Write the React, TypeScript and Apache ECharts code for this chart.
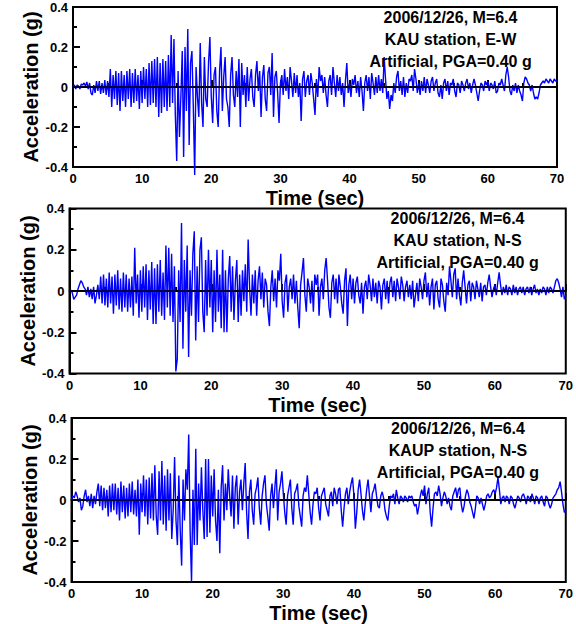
import React, { useEffect, useRef } from "react";
import * as echarts from "echarts";

// sampling step of the records (sec)
const DT = 0.2;

// KAU station, E-W (g), t = 0 ... 70 s
const kauEW = [
  0, 0.01, -0.01, 0.01, 0.005, -0.01, 0.015, 0.01, 0.02, 0.005,
  0.025, -0.01, 0.02, -0.03, -0.04, 0.01, -0.03, 0.03, -0.02, 0.03,
  -0.035, 0.02, -0.03, 0.035, -0.04, 0.03, -0.05, 0.09, -0.1, 0.06,
  -0.06, 0.08, -0.09, 0.07, -0.12, 0.08, -0.07, 0.06, -0.1, 0.08,
  -0.06, 0.09, -0.1, 0.07, -0.08, 0.09, -0.07, 0.06, -0.11, 0.08,
  -0.08, 0.1, -0.06, 0.09, -0.1, 0.12, -0.09, 0.13, -0.08, 0.14,
  -0.1, 0.15, -0.15, 0.12, -0.13, 0.14, -0.1, 0.13, -0.12, 0.16,
  -0.1, 0.26, -0.08, 0.24, -0.14, -0.37, 0.08, -0.25, -0.05, 0.18,
  -0.35, 0.2, -0.12, 0.29, -0.29, 0.12, 0.18, -0.1, -0.44, 0.1,
  -0.05, -0.15, 0.22, -0.08, -0.2, 0.15, -0.06, -0.1, 0.12, 0.25,
  -0.05, -0.18, 0.06, 0.1, -0.12, -0.2, 0.08, 0.2, -0.12, 0.05,
  0.15, -0.06, -0.1, -0.2, 0.06, 0.15, -0.04, -0.1, 0.08, -0.05,
  0.14, -0.2, 0.12, -0.04, 0.06, -0.1, 0.1, -0.07, 0.04, 0.09,
  -0.05, -0.1, 0.06, 0.13, -0.02, 0.08, -0.15, 0.05, 0.11, -0.06,
  -0.12, 0.07, 0.1, -0.04, 0.17, -0.15, 0.05, 0.08, -0.03, -0.18,
  0.02, 0.06, -0.04, 0.09, -0.02, 0.05, -0.06, 0.1, 0.03, -0.05,
  0.07, -0.03, 0.06, -0.05, 0.02, -0.17, 0.04, 0.08, -0.05, 0.03,
  0.06, -0.04, 0.07, 0.02, -0.06, -0.14, 0.04, -0.05, 0.1, 0.03,
  0.06, -0.03, 0.05, -0.04, -0.1, 0.03, 0.06, -0.04, 0.1, 0.02,
  -0.05, 0.06, -0.02, 0.05, -0.04, 0.02, -0.1, 0.03, 0.12, -0.03,
  0.02, -0.05, 0.04, 0.01, 0.06, -0.03, 0.03, -0.05, 0.05, -0.02,
  -0.12, 0.02, 0.06, -0.02, 0.05, -0.06, 0.07, 0.02, -0.04, 0.05,
  -0.03, 0.06, -0.02, 0.04, -0.03, 0.15, 0.04, -0.06, -0.02, -0.11,
  -0.04, -0.07, 0.02, -0.03, 0.05, 0.08, -0.02, 0.03, -0.04, 0.05,
  -0.05, 0.02, -0.03, 0.04, 0.03, 0.06, -0.02, 0.09, 0.04, -0.03,
  0.02, -0.04, 0.03, -0.02, 0.05, -0.03, 0.04, 0.01, -0.03, 0.03,
  0.05, -0.02, 0.02, 0.04, -0.03, -0.05, 0.01, -0.06, 0.02, 0.04,
  -0.02, 0.03, -0.04, 0.02, 0.01, 0.04, -0.02, -0.05, 0.02, 0.01,
  -0.03, 0.03, 0.01, -0.02, 0.02, 0.04, -0.01, 0.02, -0.03, 0.01,
  0.04, 0.01, -0.03, -0.07, -0.02, 0.02, 0.01, -0.02, 0.03, 0.01,
  0.03, -0.02, 0.02, 0.01, -0.01, 0.03, -0.03, -0.02, 0.02, 0.01,
  0.04, 0.01, -0.02, 0.06, 0.1, 0.05, -0.02, -0.04, 0.01, -0.02,
  0.02, -0.03, 0.01, -0.02, -0.04, -0.07, 0.02, 0.05, 0.04, 0.02,
  0.01, -0.02, 0.01, -0.03, -0.06, -0.05, -0.06, -0.03, 0.01, 0.02,
  0.03, 0.02, 0.04, 0.03, 0.02, 0.04, 0.03, 0.02, 0.04, 0.03,
  0.03,
];

// KAU station, N-S (g)
const kauNS = [
  0, 0.005, -0.01, -0.04, -0.03, -0.02, 0.01, 0.03, 0.05, 0.04,
  0.02, 0.01, -0.02, 0.02, -0.03, 0.01, -0.04, 0.02, -0.06, -0.02,
  0.03, -0.04, 0.07, -0.06, 0.08, -0.07, 0.06, -0.08, 0.09, -0.06,
  0.07, -0.11, 0.08, -0.07, 0.1, -0.09, 0.06, -0.1, 0.09, -0.08,
  0.08, -0.1, 0.06, -0.08, 0.07, -0.12, 0.21, -0.06, 0.08, -0.13,
  0.1, -0.1, 0.12, -0.08, 0.13, -0.14, 0.1, -0.09, 0.14, -0.16,
  0.11, -0.16, 0.13, -0.1, 0.15, -0.12, 0.09, -0.14, 0.22, -0.08,
  0.21, -0.12, 0.18, -0.15, 0.12, -0.39, -0.33, 0.1, -0.15, 0.33,
  -0.28, 0.15, -0.1, 0.22, -0.32, 0.1, -0.12, 0.18, 0.29, -0.24,
  0.12, -0.15, 0.2, 0.26, -0.1, -0.2, 0.15, -0.12, 0.2, -0.08,
  0.15, -0.2, 0.1, -0.15, 0.2, -0.1, 0.08, -0.18, 0.2, -0.2,
  0.1, -0.2, 0.06, 0.17, -0.1, 0.12, -0.14, 0.05, 0.15, -0.15,
  0.08, -0.12, 0.1, -0.05, 0.13, -0.1, 0.25, 0.02, -0.12, 0.08,
  -0.06, 0.1, -0.12, 0.05, 0.12, -0.04, 0.09, -0.08, 0.06, 0.03,
  -0.1, -0.17, 0.02, 0.1, -0.05, 0.06, -0.08, 0.1, 0.05, 0.18,
  -0.05, -0.13, 0.04, 0.08, -0.1, 0.02, 0.06, -0.04, 0.08, -0.06,
  0.05, -0.08, -0.18, 0.03, 0.09, 0.16, -0.02, -0.1, 0.06, 0.02,
  -0.06, 0.05, -0.1, 0.08, 0.03, 0.08, -0.12, 0.02, 0.06, -0.04,
  0.1, 0.16, 0.05, -0.08, -0.13, 0.04, 0.08, -0.04, 0.06, -0.06,
  0.08, 0.02, -0.06, -0.11, 0.05, 0.11, -0.17, 0.03, 0.08, -0.04,
  0.06, -0.06, 0.04, 0.07, -0.02, -0.06, 0.04, -0.11, 0.02, 0.05,
  -0.04, 0.08, 0.03, -0.05, 0.06, -0.03, 0.04, -0.06, 0.05, 0.02,
  -0.09, 0.03, 0.06, -0.04, 0.05, -0.06, 0.04, 0.07, -0.03, 0.05,
  -0.05, 0.06, 0.02, -0.04, 0.07, 0.03, -0.05, 0.02, 0.05, -0.03,
  0.03, -0.04, 0.05, -0.08, -0.02, 0.04, -0.05, 0.06, 0.02, -0.04,
  0.05, 0.09, -0.03, 0.04, -0.07, 0.02, 0.06, -0.09, 0.03, 0.05,
  -0.04, -0.08, 0.06, 0.03, -0.05, -0.1, 0.04, -0.02, 0.12, 0.05,
  -0.03, 0.08, 0.11, -0.04, 0.06, -0.02, -0.07, 0.04, 0.1, 0.02,
  -0.06, 0.03, 0.05, -0.05, 0.04, 0.02, -0.04, 0.05, 0.01, -0.03,
  0.04, -0.05, 0.02, 0.03, -0.02, 0.04, 0.08, 0.02, -0.03, 0.01,
  0.03, -0.02, 0.04, 0.09, 0.03, -0.02, 0.02, -0.01, 0.03, -0.02,
  0.02, 0.01, -0.02, 0.03, -0.01, 0.02, -0.02, 0.01, 0.02, -0.01,
  0.02, -0.02, 0.01, 0.02, -0.01, 0.02, -0.02, 0.01, 0.03, -0.01,
  0.01, -0.02, 0.01, -0.01, 0.02, 0.01, -0.02, 0.02, -0.01, 0.02,
  0.01, -0.01, 0.02, 0.05, 0.06, 0.04, 0.01, -0.03, 0.02, -0.04,
  -0.02,
];

// KAUP station, N-S (g)
const kaupNS = [
  0, 0.02, 0.01, 0.04, 0.02, -0.01, 0.01, -0.05, -0.03, 0.02,
  0.05, -0.01, 0.02, -0.03, 0.03, -0.04, 0.02, -0.02, 0.04, 0.08,
  -0.03, 0.07, -0.05, 0.06, -0.04, 0.05, -0.08, 0.07, -0.06, 0.08,
  -0.05, 0.08, -0.07, 0.06, -0.1, 0.09, -0.06, 0.07, -0.09, 0.06,
  -0.08, 0.08, -0.06, 0.09, -0.07, 0.05, -0.08, 0.1, -0.17, 0.08,
  -0.06, 0.12, -0.08, 0.1, -0.12, 0.11, -0.09, 0.13, -0.1, 0.17,
  -0.08, -0.17, 0.14, -0.1, 0.19, -0.12, 0.12, -0.15, 0.15, -0.1,
  0.13, -0.19, -0.05, 0.21, -0.1, -0.22, 0.12, -0.15, -0.32, 0.1,
  -0.1, 0.15, 0.05, 0.32, -0.15, -0.4, 0.05, -0.22, 0.25, -0.22,
  0.08, -0.1, 0.16, -0.05, -0.19, 0.2, -0.18, 0.2, -0.16, 0.12,
  -0.08, 0.15, -0.1, -0.2, 0.05, -0.26, 0.06, 0.17, -0.1, 0.08,
  -0.05, 0.15, 0.02, -0.08, 0.12, -0.14, 0.06, 0.12, -0.12, 0.04,
  0.1, -0.05, 0.08, 0.18, -0.06, -0.19, 0.04, 0.1, -0.05, -0.12,
  0.03, 0.06, 0.11, -0.04, -0.12, 0.02, 0.08, 0.12, -0.02, -0.08,
  -0.15, 0.02, 0.08, -0.04, 0.06, 0.15, -0.1, 0.04, 0.08, 0.14,
  0.03, -0.06, -0.12, 0.02, 0.06, 0.1, -0.04, -0.12, 0.03, 0.05,
  0.08, -0.03, -0.08, -0.13, 0.02, 0.06, 0.04, 0.12, 0.03, -0.06,
  -0.12, -0.02, 0.04, 0.03, 0.06, -0.04, -0.1, 0.02, 0.04, 0.06,
  -0.02, -0.05, -0.08, 0.02, 0.04, -0.03, 0.06, 0.03, -0.02, 0.05,
  0.06, -0.05, -0.13, -0.04, 0.03, 0.06, -0.02, 0.04, 0.08, 0.11,
  0.02, -0.14, -0.06, 0.05, 0.1, 0.03, -0.05, -0.1, -0.02, 0.05,
  0.1, 0.02, -0.06, 0.03, 0.05, 0.08, 0.02, -0.03, -0.04, 0.02,
  0.04, 0.01, -0.05, -0.08, -0.1, -0.03, 0.02, 0.01, 0.03, -0.02,
  0.05, 0.01, -0.02, 0.02, 0.01, -0.01, 0.02, 0.01, -0.01, 0.02,
  0.01, 0.02, -0.01, -0.03, -0.02, -0.07, -0.03, 0.02, 0.05, 0.02,
  0.07, -0.02, 0.03, 0.06, -0.06, -0.13, -0.04, 0.03, 0.04, 0.02,
  0.07, 0.03, -0.03, 0.01, 0.04, 0.02, -0.02, 0.01, -0.03, -0.05,
  0.02, 0.04, 0.06, 0.01, 0.05, 0.06, -0.02, -0.06, -0.03, 0.02,
  0.05, 0.03, -0.01, -0.03, -0.06, -0.09, -0.04, 0.02, 0.01, -0.02,
  0.01, -0.02, -0.05, -0.02, 0.02, 0.03, 0.01, 0.02, 0.04, 0.05,
  0.03, 0.06, 0.11, 0.05, -0.02, 0.01, 0.02, -0.01, 0.02, 0.01,
  -0.02, 0.02, 0.01, -0.02, -0.04, -0.01, 0.02, 0.01, -0.01, 0.02,
  0.03, 0.01, -0.02, 0.02, 0.01, -0.01, 0.03, 0.01, -0.02, 0.02,
  0.01, -0.02, 0.01, 0.02, -0.01, -0.03, 0.02, 0.01, -0.02, -0.04,
  -0.02, 0.01, 0.02, 0.03, 0.05, 0.06, 0.09, 0.04, -0.02, -0.06,
  -0.05,
];

const records = [kauEW, kauNS, kaupNS];

const notes = [
  ["2006/12/26, M=6.4", "KAU station, E-W", "Artificial, PGA=0.40 g"],
  ["2006/12/26, M=6.4", "KAU station, N-S", "Artificial, PGA=0.40 g"],
  ["2006/12/26, M=6.4", "KAUP station, N-S", "Artificial, PGA=0.40 g"],
];

const xName = "Time (sec)";
const yName = "Acceleration (g)";

const FONT = "'Liberation Sans', Arial, Helvetica, sans-serif";

const grids = [
  { left: 73, top: 7, width: 484, height: 160 },
  { left: 69.5, top: 208.5, width: 497.5, height: 165 },
  { left: 71.5, top: 418, width: 495.5, height: 165 },
];

export default function App() {
  const ref = useRef<HTMLDivElement>(null);
  useEffect(() => {
    if (!ref.current) return;
    const chart = echarts.init(ref.current, null, { renderer: "svg" });
    const axisLabel = { color: "#000", fontFamily: FONT, fontWeight: "bold", fontSize: 13 };
    const option: any = {
      animation: false,
      backgroundColor: "#fff",
      grid: grids.map((g) => ({ ...g, show: true, borderColor: "#000", borderWidth: 2, backgroundColor: "transparent" })),
      xAxis: grids.map((_, i) => ({
        type: "value",
        gridIndex: i,
        min: 0,
        max: 70,
        interval: 10,
        name: xName,
        nameLocation: "middle",
        nameGap: 21,
        nameMoveOverlap: false,
        nameTextStyle: { color: "#000", fontFamily: FONT, fontWeight: "bold", fontSize: 20 },
        axisLine: { show: true, lineStyle: { color: "#000", width: 2 } },
        axisTick: { show: true, inside: true, length: 7, lineStyle: { color: "#000", width: 2 } },
        minorTick: { show: true, splitNumber: 2, length: 4, lineStyle: { color: "#000", width: 2 } },
        splitLine: { show: false },
        axisLabel: { ...axisLabel, margin: 5 },
      })),
      yAxis: grids.map((_, i) => ({
        type: "value",
        gridIndex: i,
        min: -0.4,
        max: 0.4,
        interval: 0.2,
        name: yName,
        nameLocation: "middle",
        nameGap: 32,
        nameMoveOverlap: false,
        nameTextStyle: { color: "#000", fontFamily: FONT, fontWeight: "bold", fontSize: 20 },
        axisLine: { show: true, lineStyle: { color: "#000", width: 2 } },
        axisTick: { show: true, inside: true, length: 7, lineStyle: { color: "#000", width: 2 } },
        minorTick: { show: true, splitNumber: 2, length: 4, lineStyle: { color: "#000", width: 2 } },
        splitLine: { show: false },
        axisLabel: { ...axisLabel, margin: 5 },
      })),
      series: records.map((rec, i) => ({
        type: "line",
        xAxisIndex: i,
        yAxisIndex: i,
        data: rec.map((v, k) => [+(k * DT).toFixed(1), v]),
        showSymbol: false,
        symbol: "none",
        clip: false,
        lineStyle: { color: "#0000ff", width: 1.4 },
        markLine: {
          silent: true,
          symbol: "none",
          label: { show: false },
          lineStyle: { color: "#000", width: 1.5, type: "solid" },
          data: [{ yAxis: 0 }],
        },
      })),
      graphic: grids.flatMap((g, i) =>
        notes[i].map((txt, j) => ({
          type: "text",
          x: g.left + g.width * 0.78,
          y: g.top + 10 + j * 22,
          style: {
            text: txt,
            fill: "#000",
            font: `bold 16px ${FONT}`,
            textAlign: "center",
            textVerticalAlign: "middle",
          },
          z: 100,
        }))
      ),
    };
    chart.setOption(option);
    return () => chart.dispose();
  }, []);
  return <div ref={ref} style={{ position: "absolute", left: 0, top: 0, width: 576, height: 624 }} />;
}
